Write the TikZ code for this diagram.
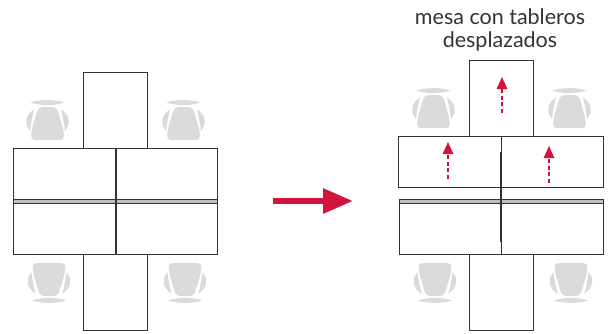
\documentclass[tikz,border=0pt]{standalone}
\usepackage{fontspec}
\setmainfont{Lato}
\usetikzlibrary{arrows.meta}
\definecolor{markred}{HTML}{D2143C}
\definecolor{chairgray}{HTML}{DADAD9}
\definecolor{edgegray}{HTML}{333333}
\begin{document}
\begin{tikzpicture}
[
  x=1pt,
  y=-1pt,
	panel/.style={line width=0.85pt,draw=edgegray,fill=white},
	seam/.style={line width=0.85pt,draw=edgegray,fill=gray!50},
	joint/.style={line width=1.5pt,edgegray},
	slide/.style={line width=1.3pt,markred,dash pattern=on 4pt off 2.6pt,-{Triangle[length=12pt,width=10.5pt]}},
	bigmove/.style={line width=6pt,markred,-{Triangle[length=30pt,width=24pt]}},
	chair/.pic={
		\fill[chairgray] (-17,2.5) .. controls (-8,-0.7) and (8,-0.7) .. (17,2.5) .. controls (8,6) and (-8,6) .. (-17,2.5) -- cycle;
		\fill[chairgray,rounded corners=4] (-9,7) -- (9,7) -- (16,30) -- (16.5,40) -- (-16.5,40) -- (-16,30) -- cycle;
		\fill[chairgray] (-13.5,9.5) .. controls (-22.5,15) and (-23.5,24) .. (-17.5,31) .. controls (-16.8,24) and (-15,16) .. (-13.5,9.5) -- cycle;
		\fill[chairgray] (13.5,9.5) .. controls (22.5,15) and (23.5,24) .. (17.5,31) .. controls (16.8,24) and (15,16) .. (13.5,9.5) -- cycle;
	}
]
\useasboundingbox (0,0) rectangle (614,333);

% chairs, before the table
\pic at (47.5,100) {chair};
\pic at (183.5,100) {chair};
\pic[yscale=-1] at (49,303) {chair};
\pic[yscale=-1] at (185,303) {chair};
\pic at (433.5,88) {chair};
\pic at (569.5,88) {chair};
\pic[yscale=-1] at (435,303) {chair};
\pic[yscale=-1] at (571,303) {chair};

% table before
\draw[panel] (83,72) rectangle (147,148);
\draw[panel] (83,254) rectangle (147,330);
\draw[panel] (13,148) rectangle (115,254);
\draw[panel] (116,148) rectangle (217.5,254);
\draw[seam] (13,199.5) rectangle (115,203);
\draw[seam] (116,199.5) rectangle (217.5,203);
\draw[joint] (115.5,152) -- (115.5,252);

% table after
\draw[panel] (469,60) rectangle (533,136);
\draw[panel] (469,254) rectangle (533,330);
\draw[panel] (398.5,136) rectangle (501,187.5);
\draw[panel] (501,136) rectangle (603.5,187.5);
\draw[panel] (399,203) rectangle (501,254);
\draw[panel] (501.5,203) rectangle (603.5,254);
\draw[seam] (399,199.5) rectangle (501,203);
\draw[seam] (501.5,199.5) rectangle (603.5,203);
\draw[joint] (501.2,152) -- (501.2,242);

% arrows
\coordinate (movestart) at (273,201);
\coordinate (moveend) at (353,201);
\draw[bigmove] (movestart) -- (moveend);

\coordinate (topstart) at (502,113);
\coordinate (topend) at (502,77);
\coordinate (leftstart) at (448,179);
\coordinate (leftend) at (448,142);
\coordinate (rightstart) at (549,183);
\coordinate (rightend) at (549,146);
\draw[slide] (topstart) -- (topend);
\draw[slide] (leftstart) -- (leftend);
\draw[slide] (rightstart) -- (rightend);

% title
\node[font=\fontsize{21.5}{23}\selectfont,text=edgegray,align=center,inner sep=0pt,anchor=base] (title) at (500,47) {mesa con tableros\\desplazados};

\end{tikzpicture}
\end{document}
